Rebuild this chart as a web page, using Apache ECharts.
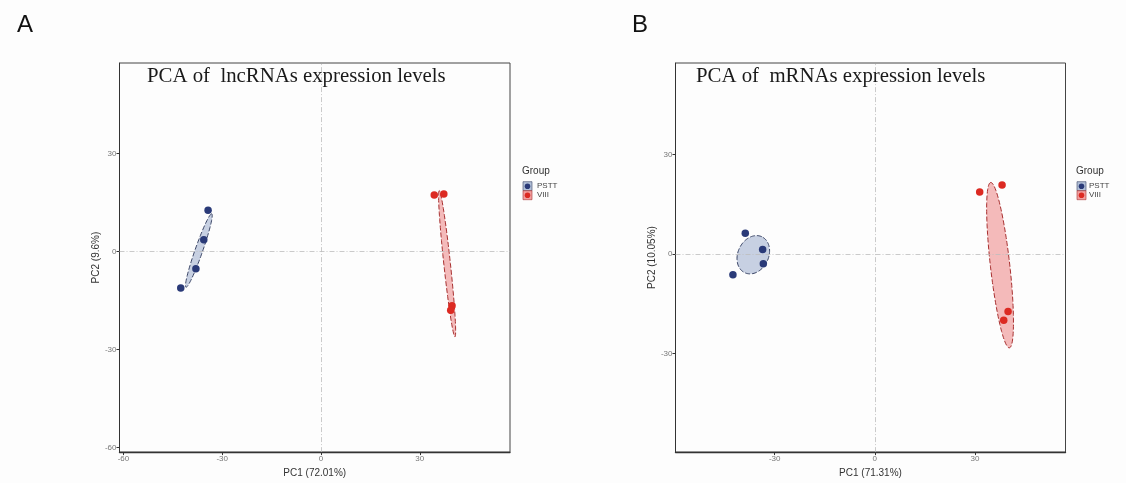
<!DOCTYPE html>
<html>
<head>
<meta charset="utf-8">
<script src="https://cdn.jsdelivr.net/npm/echarts@6/dist/echarts.min.js"></script>
<style>html,body{margin:0;padding:0;background:#fdfdfd}#c{width:1126px;height:483px}</style>
</head>
<body>
<div id="c"></div>
<script>
// ---- data ----
const groups = ['PSTT', 'VIII'];
// Panel A: lncRNAs
const lncPSTT_PC1 = [-34.3, -35.6, -38.0, -42.6];
const lncPSTT_PC2 = [12.6, 3.6, -5.3, -11.2];
const lncVIII_PC1 = [34.4, 37.3, 39.8, 39.4];
const lncVIII_PC2 = [17.3, 17.6, -16.6, -18.0];
// Panel B: mRNAs
const mPSTT_PC1 = [-38.8, -33.6, -33.4, -42.5];
const mPSTT_PC2 = [6.2, 1.3, -3.0, -6.3];
const mVIII_PC1 = [31.4, 38.1, 39.9, 38.6];
const mVIII_PC2 = [18.7, 20.8, -17.4, -20.0];
// ellipses: [centerPC1, centerPC2, semiMajor, semiMinor, angleDeg]
const lncPSTT_ellipse = [-37.1, 0.3, 11.9, 1.15, 70.8];
const lncVIII_ellipse = [38.3, -3.75, 22.5, 1.0, 96.1];
const mPSTT_ellipse = [-36.4, -0.25, 6.0, 4.6, 65];
const mVIII_ellipse = [37.5, -3.4, 25.1, 2.9, 96.4];
// ticks
const ticksA_x = [-60, -30, 0, 30];
const ticksA_y = [-60, -30, 0, 30];
const ticksB_x = [-30, 0, 30];
const ticksB_y = [-30, 0, 30];
const titles = ['PCA of  lncRNAs expression levels', 'PCA of  mRNAs expression levels'];
const xNames = ['PC1 (72.01%)', 'PC1 (71.31%)'];
const yNames = ['PC2 (9.6%)', 'PC2 (10.05%)'];

const COL = {
  PSTT: {pt: '#2a3a78', fill: 'rgba(170,185,212,0.65)', line: '#3a4566'},
  VIII: {pt: '#dc2a22', fill: 'rgba(240,150,150,0.65)', line: '#a83030'}
};

function zip(a, b) { return a.map((v, i) => [v, b[i]]); }

function ellipseSeries(params, grp, idx) {
  return {
    type: 'custom', xAxisIndex: idx, yAxisIndex: idx, z: 2, silent: true,
    data: [params],
    renderItem: function (p, api) {
      const cx = api.value(0), cy = api.value(1), a = api.value(2), b = api.value(3);
      const th = api.value(4) * Math.PI / 180;
      const pts = [];
      for (let k = 0; k < 96; k++) {
        const t = k / 96 * 2 * Math.PI;
        const ux = a * Math.cos(t), uy = b * Math.sin(t);
        pts.push(api.coord([cx + ux * Math.cos(th) - uy * Math.sin(th), cy + ux * Math.sin(th) + uy * Math.cos(th)]));
      }
      return {type: 'polygon', shape: {points: pts},
        style: {fill: COL[grp].fill, stroke: COL[grp].line, lineWidth: 1, lineDash: [5, 2]}};
    }
  };
}

function scatter(x, y, grp, idx, withRef) {
  const s = {
    type: 'scatter', name: grp, xAxisIndex: idx, yAxisIndex: idx, z: 3,
    data: zip(x, y), symbolSize: 7.5,
    itemStyle: {color: COL[grp].pt, opacity: 1}
  };
  if (withRef) {
    s.markLine = {
      silent: true, symbol: 'none', label: {show: false}, animation: false,
      lineStyle: {color: '#bdbdbd', width: 0.8, type: [5, 2, 1, 2]},
      data: [{xAxis: 0}, {yAxis: 0}]
    };
  }
  return s;
}

function xAxis(idx, min, max, ticks, name) {
  return {
    type: 'value', gridIndex: idx, min: min, max: max, name: name,
    nameLocation: 'middle', nameGap: 12,
    nameTextStyle: {fontSize: 10, color: '#333', fontFamily: 'Liberation Sans', verticalAlign: 'top'},
    splitLine: {show: false},
    axisLine: {show: true, onZero: false, lineStyle: {color: '#333', width: 1.4}},
    axisTick: {show: true, length: 3, customValues: ticks, lineStyle: {color: '#333'}},
    axisLabel: {customValues: ticks, fontSize: 8, color: '#777', margin: 3, fontFamily: 'Liberation Sans'}
  };
}
function yAxis(idx, min, max, ticks, name) {
  return {
    type: 'value', gridIndex: idx, min: min, max: max, name: name,
    nameLocation: 'middle', nameGap: 18,
    nameTextStyle: {fontSize: 10, color: '#333', fontFamily: 'Liberation Sans'},
    splitLine: {show: false},
    axisLine: {show: true, onZero: false, lineStyle: {color: '#333', width: 1}},
    axisTick: {show: true, length: 3, customValues: ticks, lineStyle: {color: '#333'}},
    axisLabel: {customValues: ticks, fontSize: 8, color: '#777', margin: 3, fontFamily: 'Liberation Sans'}
  };
}

function legendGraphic(x0, textX) {
  const els = [{type: 'text', left: x0, top: 166, style: {text: 'Group', fontSize: 10, fill: '#333', fontFamily: 'Liberation Sans'}}];
  groups.forEach((g, i) => {
    const y = 181.7 + i * 9;
    els.push({type: 'rect', shape: {x: x0 + 1, y: y, width: 9, height: 9},
      style: {fill: COL[g].fill.replace('0.65', '0.9'), stroke: COL[g].line, lineWidth: 0.6}});
    els.push({type: 'circle', shape: {cx: x0 + 5.5, cy: y + 4.5, r: 2.8}, style: {fill: COL[g].pt}});
    els.push({type: 'text', x: textX, y: y + 4.5, style: {text: g, fontSize: 8, fill: '#444', fontFamily: 'Liberation Sans', verticalAlign: 'middle'}});
  });
  return els;
}

const chart = echarts.init(document.getElementById('c'), null, {renderer: 'canvas'});
chart.setOption({
  backgroundColor: '#fdfdfd',
  animation: false,
  title: [
    {text: 'A', left: 12, top: 8, textStyle: {fontSize: 24, fontWeight: 'normal', color: '#111', fontFamily: 'Liberation Sans'}},
    {text: 'B', left: 627, top: 8, textStyle: {fontSize: 24, fontWeight: 'normal', color: '#111', fontFamily: 'Liberation Sans'}},
    {text: titles[0], left: 147, top: 66, padding: 0, textStyle: {fontSize: 20.8, fontWeight: 'normal', color: '#1a1a1a', fontFamily: 'Liberation Serif'}},
    {text: titles[1], left: 696, top: 66, padding: 0, textStyle: {fontSize: 20.8, fontWeight: 'normal', color: '#1a1a1a', fontFamily: 'Liberation Serif'}}
  ],
  grid: [
    {left: 119.5, right: 616, top: 63, bottom: 29, show: true, borderColor: '#444', borderWidth: 1, backgroundColor: '#fdfdfd'},
    {left: 675.5, right: 60.5, top: 63, bottom: 29, show: true, borderColor: '#444', borderWidth: 1, backgroundColor: '#fdfdfd'}
  ],
  xAxis: [xAxis(0, -61.2, 57.4, ticksA_x, xNames[0]), xAxis(1, -59.7, 57.1, ticksB_x, xNames[1])],
  yAxis: [yAxis(0, -61.4, 57.7, ticksA_y, yNames[0]), yAxis(1, -59.8, 57.6, ticksB_y, yNames[1])],
  graphic: legendGraphic(522, 537).concat(legendGraphic(1076, 1089)),
  series: [
    ellipseSeries(lncPSTT_ellipse, 'PSTT', 0),
    ellipseSeries(lncVIII_ellipse, 'VIII', 0),
    scatter(lncPSTT_PC1, lncPSTT_PC2, 'PSTT', 0, true),
    scatter(lncVIII_PC1, lncVIII_PC2, 'VIII', 0, false),
    ellipseSeries(mPSTT_ellipse, 'PSTT', 1),
    ellipseSeries(mVIII_ellipse, 'VIII', 1),
    scatter(mPSTT_PC1, mPSTT_PC2, 'PSTT', 1, true),
    scatter(mVIII_PC1, mVIII_PC2, 'VIII', 1, false)
  ]
});
</script>
</body>
</html>
